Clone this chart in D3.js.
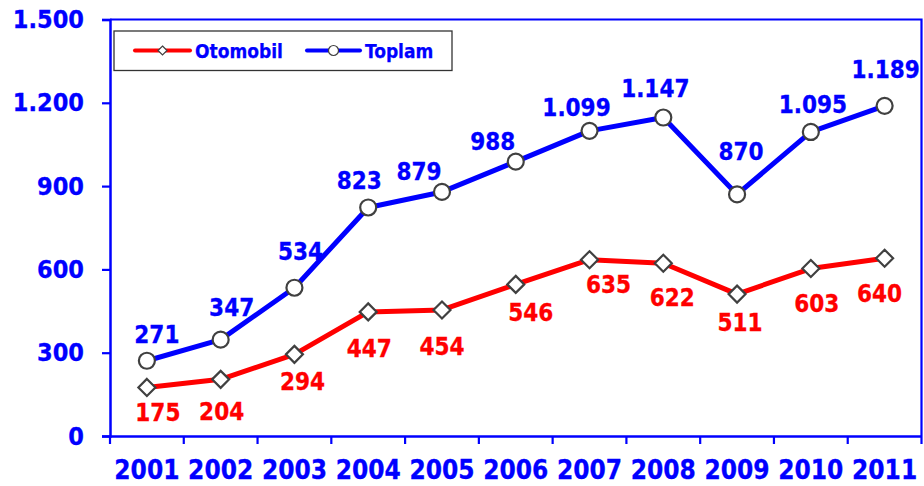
<!DOCTYPE html>
<html>
<head>
<meta charset="utf-8">
<script src="https://cdn.jsdelivr.net/npm/d3@7"></script>
<style>
  html, body { margin: 0; padding: 0; background: #fff; }
  svg { display: block; }
  text { font-family: "DejaVu Sans Condensed", "DejaVu Sans", sans-serif; font-weight: bold; }
</style>
</head>
<body>
<svg id="chart" width="924" height="486"></svg>
<script>
// ---- data ----
const years = ["2001","2002","2003","2004","2005","2006","2007","2008","2009","2010","2011"];
const otomobil = [175, 204, 294, 447, 454, 546, 635, 622, 511, 603, 640];
const toplam = [271, 347, 534, 823, 879, 988, 1099, 1147, 870, 1095, 1189];
const yTicks = [0, 300, 600, 900, 1200, 1500];
const seriesNames = ["Otomobil", "Toplam"];

(function () {
// ---- layout ----
const pLeft = 110, pRight = 921.5, pTop = 19.5, pBottom = 436;
const BLUE = "#0000ff", RED = "#ff0000", MARK = "#404040";

// label nudges (pixel offsets of label centre from its point)
const topNudge = [[10,-26],[11,-32],[6,-36],[-9,-26],[-23,-20],[-23,-20],[-13,-23],[-8,-29],[4,-42],[2,-27],[1,-36]];
const botNudge = [[11,26],[1,33],[8,28],[1,37],[0,37],[15,29],[19,25],[9,35],[3,29],[6,35],[-5,36]];

const svg = d3.select("#chart");
const locale = d3.formatLocale({decimal: ",", thousands: ".", grouping: [3], currency: ["", ""]});
const fmt = locale.format(",d");

const x = d3.scaleBand().domain(years).range([pLeft, pRight]).padding(0);
const y = d3.scaleLinear().domain([0, 1500]).range([pBottom, pTop]);
const cx = d => x(d) + x.bandwidth() / 2;

// plot border (top & right)
svg.append("path")
  .attr("d", `M${pLeft},${pTop}H${pRight}V${pBottom}`)
  .attr("fill", "none").attr("stroke", BLUE).attr("stroke-width", 2.2);

// y axis
const yAxis = svg.append("g").attr("transform", `translate(${pLeft},0)`)
  .call(d3.axisLeft(y).tickValues(yTicks).tickFormat(fmt).tickSize(8).tickPadding(18));
yAxis.select(".domain").attr("stroke", BLUE).attr("stroke-width", 2.5);
yAxis.selectAll(".tick line").attr("stroke", BLUE).attr("stroke-width", 2.2);
yAxis.selectAll(".tick text").attr("fill", BLUE).attr("font-size", 25)
  .attr("stroke", BLUE).attr("stroke-width", 0.3)
  .attr("font-family", "'DejaVu Sans Condensed','DejaVu Sans',sans-serif").attr("font-weight", "bold");

// x axis with ticks at band boundaries
const xAxis = svg.append("g").attr("transform", `translate(0,${pBottom})`)
  .call(d3.axisBottom(x).tickSize(0).tickPadding(0));
xAxis.select(".domain").attr("stroke", BLUE).attr("stroke-width", 2.5);
xAxis.selectAll(".tick text").attr("fill", BLUE).attr("font-size", 26)
  .attr("stroke", BLUE).attr("stroke-width", 0.3)
  .attr("font-family", "'DejaVu Sans Condensed','DejaVu Sans',sans-serif").attr("font-weight", "bold")
  .attr("dy", null).attr("y", 34).attr("dominant-baseline", "central");
const bounds = years.map(d => x(d)).concat([pRight]);
xAxis.selectAll(".bnd").data(bounds).enter().append("line")
  .attr("x1", d => d).attr("x2", d => d).attr("y1", 0).attr("y2", 8)
  .attr("stroke", BLUE).attr("stroke-width", 2.2);

// lines
const line = d3.line().x((d, i) => cx(years[i])).y(d => y(d));
svg.append("path").datum(otomobil).attr("d", line)
  .attr("fill", "none").attr("stroke", RED).attr("stroke-width", 5).attr("stroke-linejoin", "round");
svg.append("path").datum(toplam).attr("d", line)
  .attr("fill", "none").attr("stroke", BLUE).attr("stroke-width", 5).attr("stroke-linejoin", "round");

// markers
const diamond = s => `M0,${-s}L${s},0L0,${s}L${-s},0Z`;
svg.selectAll(".dm").data(otomobil).enter().append("path")
  .attr("transform", (d, i) => `translate(${cx(years[i])},${y(d)})`)
  .attr("d", diamond(8.5)).attr("fill", "#fff").attr("stroke", MARK).attr("stroke-width", 2.2);
svg.selectAll(".cm").data(toplam).enter().append("circle")
  .attr("cx", (d, i) => cx(years[i])).attr("cy", d => y(d)).attr("r", 8)
  .attr("fill", "#fff").attr("stroke", MARK).attr("stroke-width", 2.2);

// data labels
svg.selectAll(".lt").data(toplam).enter().append("text")
  .attr("x", (d, i) => cx(years[i]) + topNudge[i][0]).attr("y", (d, i) => y(d) + topNudge[i][1])
  .attr("text-anchor", "middle").attr("dominant-baseline", "central")
  .attr("fill", BLUE).attr("stroke", BLUE).attr("stroke-width", 0.3)
  .attr("font-size", 24).text(d => fmt(d));
svg.selectAll(".lb").data(otomobil).enter().append("text")
  .attr("x", (d, i) => cx(years[i]) + botNudge[i][0]).attr("y", (d, i) => y(d) + botNudge[i][1])
  .attr("text-anchor", "middle").attr("dominant-baseline", "central")
  .attr("fill", RED).attr("stroke", RED).attr("stroke-width", 0.3)
  .attr("font-size", 24).text(d => fmt(d));

// legend
const lg = svg.append("g");
lg.append("rect").attr("x", 114).attr("y", 31).attr("width", 338).attr("height", 39.5)
  .attr("fill", "#fff").attr("stroke", "#333").attr("stroke-width", 1.3);
const legendItems = [
  {name: seriesNames[0], color: RED, x0: 135, x1: 190, m: "d"},
  {name: seriesNames[1], color: BLUE, x0: 307, x1: 360, m: "c"}
];
legendItems.forEach(it => {
  const ly = 50.5;
  lg.append("line").attr("x1", it.x0).attr("x2", it.x1).attr("y1", ly).attr("y2", ly)
    .attr("stroke", it.color).attr("stroke-width", 4).attr("stroke-linecap", "round");
  const mx = (it.x0 + it.x1) / 2;
  if (it.m === "d") {
    lg.append("path").attr("transform", `translate(${mx},${ly})`).attr("d", diamond(4.5))
      .attr("fill", "#fff").attr("stroke", MARK).attr("stroke-width", 1.2);
  } else {
    lg.append("circle").attr("cx", mx).attr("cy", ly).attr("r", 5)
      .attr("fill", "#fff").attr("stroke", MARK).attr("stroke-width", 1.2);
  }
  lg.append("text").attr("x", it.x1 + 5).attr("y", ly).attr("dominant-baseline", "central")
    .attr("fill", BLUE).attr("stroke", BLUE).attr("stroke-width", 0.25)
    .attr("font-size", 19).text(it.name);
});
})();
</script>
</body>
</html>
